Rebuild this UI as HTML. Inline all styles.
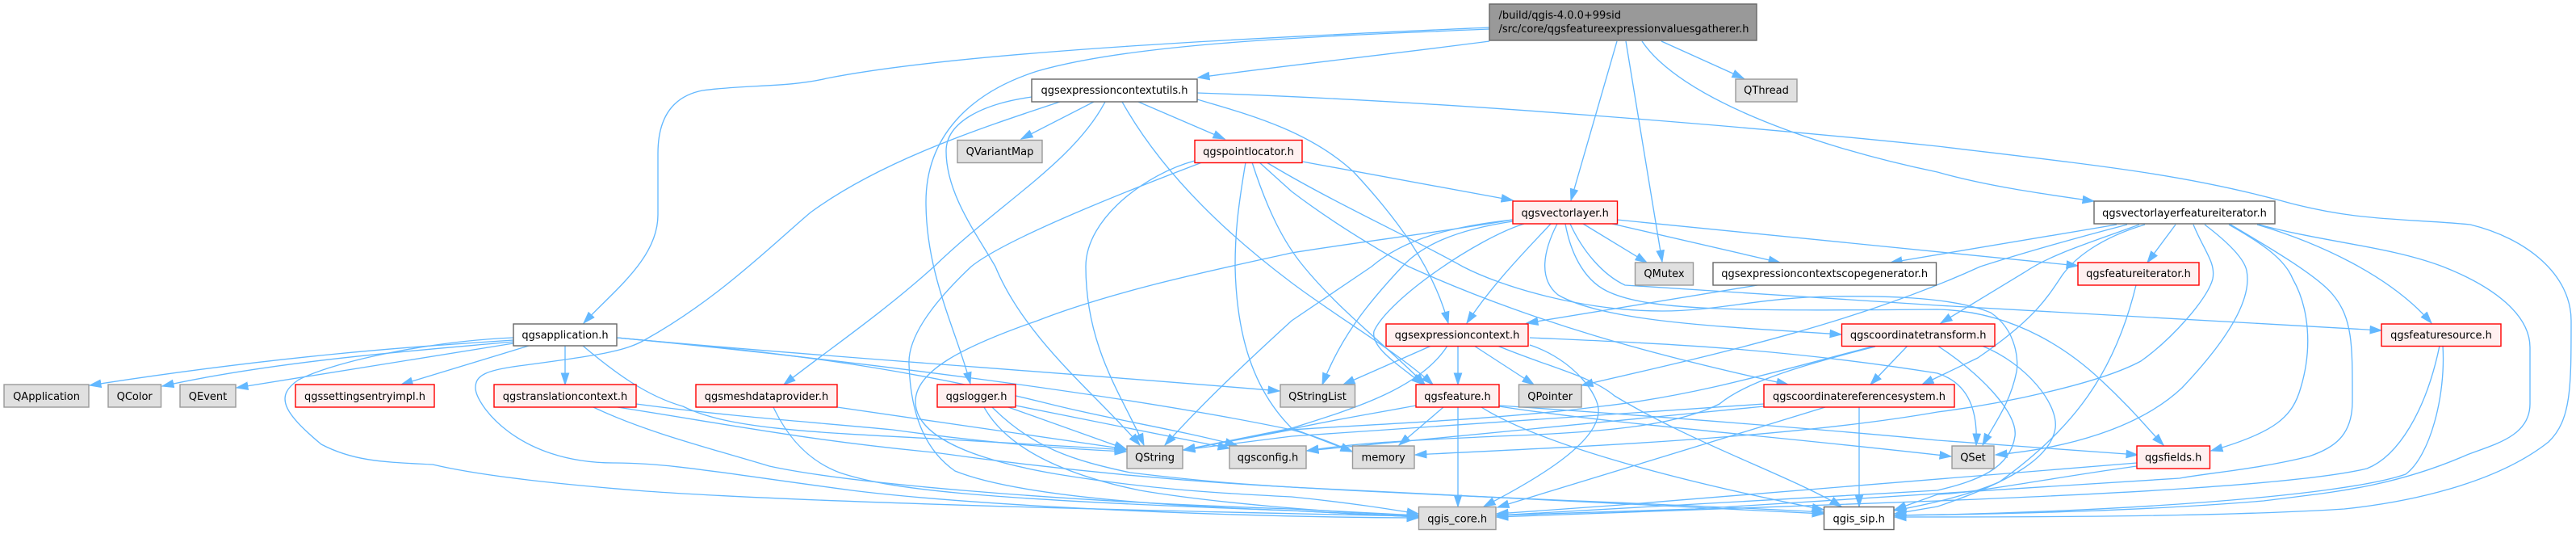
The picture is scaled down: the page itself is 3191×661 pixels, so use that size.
<!DOCTYPE html>
<html><head><meta charset="utf-8"><style>
html,body{margin:0;padding:0;background:#fff}
svg{display:block}
text{font-family:"DejaVu Sans",sans-serif;font-size:13px;fill:#000}
.e path{fill:none;stroke:#63b8ff;stroke-width:1.33;marker-end:url(#a)}
.w{fill:#fff;stroke:#666;stroke-width:1.4}
.g{fill:#e0e0e0;stroke:#999;stroke-width:1.4}
.r{fill:#fff0f0;stroke:#f00;stroke-width:1.4}
.k{fill:#999;stroke:#666;stroke-width:1.4}
</style></head><body>
<svg xmlns="http://www.w3.org/2000/svg" width="3191" height="661" viewBox="0 0 3191 661">
<defs><marker id="a" markerUnits="userSpaceOnUse" markerWidth="16" markerHeight="12" refX="14.5" refY="5.5" orient="auto"><path d="M0.5,0.8 L14.5,5.5 L0.5,10.2 Z" fill="#63b8ff" stroke="#63b8ff"/></marker></defs>
<g class="e">
<path d="M1845,34 C1600,45 1200,62 1024,97 C980,108 920,105 870,112 C830,120 815,150 815,190 L815,266 C815,320 760,360 723,400"/>
<path d="M1845,36 C1600,46 1400,55 1285,88 C1200,115 1147,170 1147,250 C1147,340 1185,410 1202,475"/>
<path d="M1845,51 C1700,70 1600,80 1484,96"/>
<path d="M2003,51 L1946,248"/>
<path d="M2014,51 L2059,324"/>
<path d="M2058,51 L2160,97"/>
<path d="M2034,51 C2080,120 2240,180 2400,213 C2460,230 2530,240 2594,249"/>
<path d="M1355,126 L1265,172"/>
<path d="M1410,126 L1517,172"/>
<path d="M1278,120 C1220,128 1172,150 1172,187 C1172,240 1210,290 1233,330 C1270,420 1360,490 1412,551"/>
<path d="M1313,126 C1210,160 1090,200 1004,263 C960,300 890,370 800,420 C775,435 740,440 650,452 C600,458 589,465 589,480 C589,500 640,573 760,573 C830,573 890,585 1055,607 C1200,625 1500,640 1757,641"/>
<path d="M1369,126 C1330,200 1240,250 1157,330 C1090,390 1030,430 971,476"/>
<path d="M1390,126 C1440,215 1520,290 1600,350 C1660,395 1730,435 1775,476"/>
<path d="M1483,123 C1540,140 1620,160 1677,213 C1730,270 1775,330 1794,400"/>
<path d="M1483,115 C1800,125 2200,160 2400,181 C2600,205 2700,215 2824,248 C2920,275 2980,270 3060,278 C3130,295 3185,340 3185,397 C3185,480 3185,520 3157,547 C3090,600 2980,622 2904,630 C2750,640 2500,640 2347,640"/>
<path d="M1613,200 L1874,248"/>
<path d="M1480,199 C1420,215 1345,270 1345,330 C1345,430 1390,490 1417,551"/>
<path d="M1489,201 C1360,250 1240,300 1203,330 C1150,380 1125,420 1126,450 C1128,520 1150,560 1183,583 C1250,610 1400,625 1600,632 L1757,640"/>
<path d="M1543,201 C1533,260 1530,290 1530,330 C1532,430 1560,490 1600,530 L1675,559"/>
<path d="M1551,201 C1570,260 1590,300 1615,330 C1660,385 1720,430 1765,476"/>
<path d="M1560,201 L1600,237 C1650,275 1700,305 1745,330 C1900,400 2050,440 2215,476"/>
<path d="M1569,201 C1650,250 1750,295 1812,330 C1860,355 1960,385 2059,385 C2130,385 2180,368 2270,367 C2340,366 2420,368 2466,387 C2500,410 2500,450 2498,460 C2490,500 2470,525 2456,551"/>
<path d="M1874,272 C1780,288 1680,300 1600,313 C1500,335 1380,360 1285,397 C1190,430 1134,460 1134,497 C1134,550 1240,575 1310,587 C1420,605 1500,610 1600,615 C1670,622 1720,630 1757,636"/>
<path d="M1874,272 C1800,280 1740,295 1699,330 L1600,397 C1520,470 1480,510 1443,551"/>
<path d="M1874,274 C1800,285 1760,305 1737,330 C1690,380 1660,420 1638,476"/>
<path d="M1888,277 C1830,295 1720,370 1702,410 C1698,430 1730,450 1763,476"/>
<path d="M1921,277 C1895,305 1850,350 1817,400"/>
<path d="M1929,277 C1912,310 1905,345 1930,365 C1990,400 2150,405 2281,414"/>
<path d="M1939,277 C1945,310 1960,345 1990,360 C2040,385 2150,385 2400,383 C2500,385 2570,440 2602,470 C2640,505 2660,530 2680,551"/>
<path d="M1945,277 C1960,310 1985,340 2013,353 L2400,378 L2950,409"/>
<path d="M1961,277 L2040,325"/>
<path d="M1997,277 L2205,325"/>
<path d="M2003,272 L2574,329"/>
<path d="M1773,428 L1664,476"/>
<path d="M1806,428 L1806,476"/>
<path d="M1826,428 L1900,476"/>
<path d="M1793,428 C1760,480 1680,505 1600,530 L1466,557"/>
<path d="M1895,427 C1950,445 1982,490 1980,510 C1978,550 1900,595 1838,627"/>
<path d="M1855,428 C1920,455 1970,465 2000,490 C2100,550 2220,590 2281,627"/>
<path d="M1895,418 C2050,425 2200,430 2400,462 C2440,475 2450,510 2448,551"/>
<path d="M2177,353 L1891,400"/>
<path d="M2635,278 C2570,295 2500,315 2453,330 C2300,400 2120,440 1959,477"/>
<path d="M2650,278 C2590,300 2540,315 2508,337 L2404,400"/>
<path d="M2657,278 C2600,295 2570,320 2555,340 C2535,370 2520,395 2450,443 L2381,476"/>
<path d="M2695,278 L2660,325"/>
<path d="M2622,278 L2342,325"/>
<path d="M2731,278 C2760,300 2780,320 2783,335 C2790,370 2760,420 2703,480 C2650,530 2560,555 2472,563"/>
<path d="M2717,278 C2730,310 2745,325 2741,345 C2735,370 2690,420 2652,447 C2600,475 2480,500 2400,510 C2200,545 1900,555 1753,563"/>
<path d="M2761,278 C2800,300 2830,320 2840,345 C2860,380 2865,430 2850,480 C2840,515 2820,535 2739,558"/>
<path d="M2763,278 C2800,300 2870,340 2890,365 C2915,395 2914,430 2914,497 C2914,540 2890,555 2860,565 C2800,580 2740,585 2700,592 C2600,600 2400,610 2100,630 L1854,638"/>
<path d="M2796,278 C2870,300 2960,340 3012,400"/>
<path d="M2798,278 C2880,300 2960,305 3026,330 C3090,355 3134,390 3134,430 L3134,500 C3134,540 3090,550 3056,563 C2960,605 2880,610 2804,620 C2660,632 2500,636 2347,638"/>
<path d="M2646,353 C2620,460 2570,530 2476,597 C2440,612 2400,622 2347,632"/>
<path d="M3022,428 C3005,510 2970,565 2932,580 C2850,600 2600,612 2400,620 C2300,624 2100,630 1854,640"/>
<path d="M3026,428 C3030,490 3010,565 2980,587 C2900,615 2600,635 2347,638"/>
<path d="M2647,573 C2500,585 2250,605 2008,625 L1854,636"/>
<path d="M2647,577 C2550,590 2450,610 2400,612 L2347,631"/>
<path d="M2363,428 L2317,476"/>
<path d="M2323,428 C2200,460 2100,490 1983,503 C1850,520 1700,525 1600,532 L1466,557"/>
<path d="M2323,429 C2220,455 2160,475 2130,500 C2080,525 2000,535 1855,540 C1750,545 1680,548 1619,558"/>
<path d="M2400,428 C2450,460 2500,510 2496,540 C2490,580 2450,595 2400,607 C2200,620 2000,630 1854,638"/>
<path d="M2455,428 C2510,450 2550,500 2546,530 C2540,570 2480,600 2400,627 L2347,636"/>
<path d="M2303,504 L2303,627"/>
<path d="M2261,504 L1855,628"/>
<path d="M2185,500 C2000,512 1800,525 1600,540 L1466,557"/>
<path d="M2185,503 C2050,515 1850,535 1619,558"/>
<path d="M1788,504 L1733,551"/>
<path d="M1806,504 L1806,627"/>
<path d="M1835,504 C1900,545 2050,590 2259,631"/>
<path d="M1754,502 C1700,512 1650,520 1600,531 L1466,557"/>
<path d="M1857,503 C2000,525 2200,540 2417,565"/>
<path d="M1857,502 C2050,515 2300,535 2400,545 L2648,563"/>
<path d="M636,421 C500,430 350,440 111,477"/>
<path d="M636,423 C540,432 350,445 201,478"/>
<path d="M636,425 L293,480"/>
<path d="M655,428 L497,476"/>
<path d="M700,428 L700,476"/>
<path d="M636,418 C540,422 420,445 370,470 C340,490 350,510 398,550 C440,572 480,572 536,575 C600,590 700,600 800,608 C1000,622 1400,632 1757,639"/>
<path d="M764,418 C1000,440 1300,460 1585,484"/>
<path d="M764,418 C1050,445 1400,490 1600,532 C1630,540 1650,548 1675,559"/>
<path d="M764,418 C950,435 1100,450 1300,500 C1380,520 1450,530 1532,551"/>
<path d="M722,428 C760,460 800,490 846,503 C900,530 1000,535 1157,543 C1250,548 1320,552 1395,557"/>
<path d="M788,500 C900,515 1000,522 1106,532 C1200,545 1300,555 1395,559"/>
<path d="M765,504 C900,525 1000,545 1157,560 C1300,580 1450,595 1600,603 C1750,612 2000,622 2259,636"/>
<path d="M735,504 C800,535 880,555 953,577 C1050,598 1300,620 1600,630 L1757,638"/>
<path d="M1037,504 L1395,556"/>
<path d="M958,504 C975,540 1000,570 1040,585 C1100,605 1200,618 1600,632 L1757,640"/>
<path d="M1249,504 L1395,556"/>
<path d="M1258,502 L1523,555"/>
<path d="M1219,504 C1250,560 1330,590 1412,607 C1500,622 1650,635 1757,638"/>
<path d="M1229,504 C1280,555 1330,570 1400,585 C1500,597 1550,600 1600,603 C1800,615 2100,625 2259,634"/>
</g>
<g>
<rect class="k" x="1845" y="5" width="331" height="45"/><text x="1856.5" y="23">/build/qgis-4.0.0+99sid</text><text x="1856.5" y="40">/src/core/qgsfeatureexpressionvaluesgatherer.h</text>
<rect class="w" x="636" y="401" width="128" height="27"/><text x="700" y="419" text-anchor="middle">qgsapplication.h</text>
<rect class="g" x="5" y="476" width="105" height="28"/><text x="57.5" y="495" text-anchor="middle">QApplication</text>
<rect class="g" x="134" y="476" width="65.5" height="28"/><text x="166.7" y="495" text-anchor="middle">QColor</text>
<rect class="g" x="223" y="476" width="69" height="28"/><text x="257.5" y="495" text-anchor="middle">QEvent</text>
<rect class="r" x="366" y="476" width="172" height="28"/><text x="452" y="495" text-anchor="middle">qgssettingsentryimpl.h</text>
<rect class="r" x="612" y="476" width="176" height="28"/><text x="700" y="495" text-anchor="middle">qgstranslationcontext.h</text>
<rect class="w" x="1278" y="98" width="205" height="28"/><text x="1380.5" y="116" text-anchor="middle">qgsexpressioncontextutils.h</text>
<rect class="g" x="1186" y="173.5" width="105" height="28"/><text x="1238.5" y="192" text-anchor="middle">QVariantMap</text>
<rect class="r" x="1480" y="173.5" width="133" height="28"/><text x="1546.5" y="192" text-anchor="middle">qgspointlocator.h</text>
<rect class="r" x="862" y="476" width="175" height="28"/><text x="949.5" y="495" text-anchor="middle">qgsmeshdataprovider.h</text>
<rect class="r" x="1161" y="476" width="97" height="28"/><text x="1209.5" y="495" text-anchor="middle">qgslogger.h</text>
<rect class="g" x="1396" y="552" width="69" height="28"/><text x="1430.5" y="570.5" text-anchor="middle">QString</text>
<rect class="g" x="1523" y="552" width="95" height="28"/><text x="1570.5" y="570.5" text-anchor="middle">qgsconfig.h</text>
<rect class="g" x="1586" y="476" width="92.5" height="28"/><text x="1632" y="495" text-anchor="middle">QStringList</text>
<rect class="g" x="2150" y="98" width="76" height="28"/><text x="2188" y="116" text-anchor="middle">QThread</text>
<rect class="r" x="1874" y="249" width="129.5" height="28"/><text x="1938.7" y="268" text-anchor="middle">qgsvectorlayer.h</text>
<rect class="g" x="2025.5" y="325" width="72" height="28"/><text x="2061.5" y="343" text-anchor="middle">QMutex</text>
<rect class="w" x="2122" y="325" width="276.5" height="28"/><text x="2260.2" y="343" text-anchor="middle">qgsexpressioncontextscopegenerator.h</text>
<rect class="r" x="1717" y="401" width="176" height="27.5"/><text x="1805" y="419" text-anchor="middle">qgsexpressioncontext.h</text>
<rect class="r" x="2281.5" y="401" width="189.5" height="27.5"/><text x="2376.2" y="419" text-anchor="middle">qgscoordinatetransform.h</text>
<rect class="r" x="1754" y="476" width="103" height="28"/><text x="1805.5" y="495" text-anchor="middle">qgsfeature.h</text>
<rect class="g" x="1881.5" y="476" width="77.5" height="28"/><text x="1920.2" y="495" text-anchor="middle">QPointer</text>
<rect class="r" x="2185" y="476" width="236" height="28"/><text x="2303" y="495" text-anchor="middle">qgscoordinatereferencesystem.h</text>
<rect class="g" x="1675.5" y="552" width="76.5" height="28"/><text x="1713.7" y="570.5" text-anchor="middle">memory</text>
<rect class="g" x="1757.5" y="627.5" width="95.5" height="28"/><text x="1805.2" y="646.5" text-anchor="middle">qgis_core.h</text>
<rect class="w" x="2259.5" y="627.5" width="86.5" height="28"/><text x="2302.7" y="646.5" text-anchor="middle">qgis_sip.h</text>
<rect class="w" x="2594" y="249" width="224" height="28"/><text x="2706" y="268" text-anchor="middle">qgsvectorlayerfeatureiterator.h</text>
<rect class="r" x="2574" y="325" width="150" height="28"/><text x="2649" y="343" text-anchor="middle">qgsfeatureiterator.h</text>
<rect class="r" x="2950" y="401" width="148" height="27.5"/><text x="3024" y="419" text-anchor="middle">qgsfeaturesource.h</text>
<rect class="g" x="2418" y="552" width="52" height="28"/><text x="2444" y="570.5" text-anchor="middle">QSet</text>
<rect class="r" x="2647" y="552" width="90.5" height="28"/><text x="2692.2" y="570.5" text-anchor="middle">qgsfields.h</text>
</g>
</svg>
</body></html>
